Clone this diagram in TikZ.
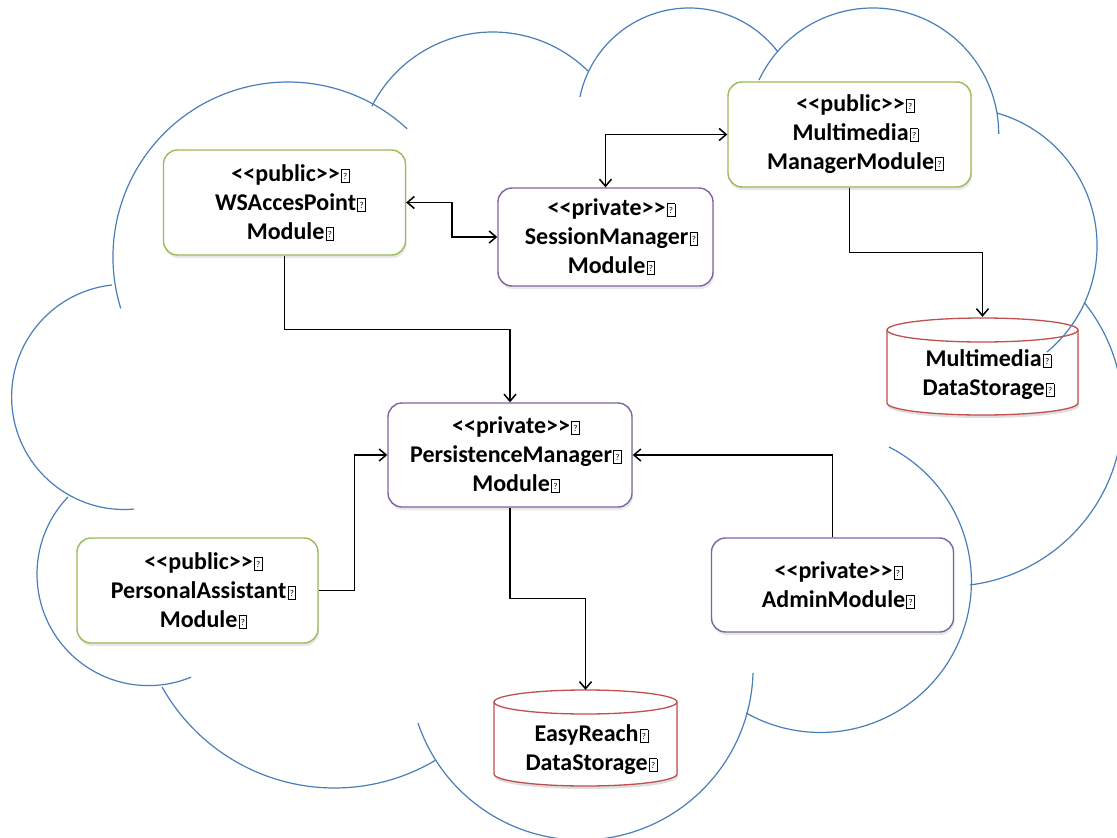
\documentclass[tikz,border=0pt]{standalone}
\usepackage{fontspec}
\setmainfont{Carlito}[Ligatures=TeXOff]
\usetikzlibrary{arrows.meta,shadows}

\definecolor{cloudblue}{RGB}{74,126,187}
\definecolor{pubgreen}{RGB}{155,187,89}
\definecolor{privpurple}{RGB}{128,100,162}
\definecolor{storered}{RGB}{192,80,77}

% small framed "?" that closes every text line
\newcommand\qbox{\kern1.2pt{\setlength\fboxsep{0pt}\setlength\fboxrule{0.8pt}%
  \fbox{\makebox[7pt]{\rule[-0.3pt]{0pt}{12pt}\raisebox{2pt}{\fontsize{9}{9}\selectfont\mdseries ?}}}}}
\newcommand\mline[1]{\hspace*{12pt}#1\qbox}
\newcommand\modfont{\fontsize{24}{29}\selectfont\bfseries}

% storage drum: left x, right x, top-ellipse centre y, bottom-ellipse centre y
\newcommand\storedrum[4]{%
  \fill[black,opacity=0.13] (#1+1,#3+3) -- (#1+1,#4+3)
    arc[start angle=180,end angle=0,x radius={(#2-#1)/2},y radius=12] -- (#2+1,#3+3) -- cycle;
  \draw[drum] (#1,#3) -- (#1,#4)
    arc[start angle=180,end angle=0,x radius={(#2-#1)/2},y radius=12] -- (#2,#3)
    arc[start angle=0,end angle=-180,x radius={(#2-#1)/2},y radius=12] -- cycle;
  \draw[drum] (#1,#3) arc[start angle=180,end angle=0,x radius={(#2-#1)/2},y radius=12];
}

\begin{document}
\begin{tikzpicture}[x=1pt,y=-1pt,
  modbox/.style={draw, fill=white, rounded corners=14pt, line width=1.4pt,
    align=center, font=\modfont, inner sep=0pt,
    drop shadow={shadow xshift=1pt, shadow yshift=-3pt, opacity=0.18}},
  pubbox/.style={modbox, draw=pubgreen},
  privbox/.style={modbox, draw=privpurple},
  drum/.style={draw=storered, fill=white, line width=1.3pt},
  drumtext/.style={align=center, font=\modfont, inner sep=0pt},
  drumarea/.style={rectangle, inner sep=0pt},
  conn/.style={line width=1.5pt, black},
  cloudarc/.style={cloudblue, line width=1.2pt},
  >={Straight Barb[length=7pt,width=12pt]}]

\fill[white] (0,0) rectangle (1117,838);
\useasboundingbox (0,0) rectangle (1117,838);

% module boxes
\node[pubbox, minimum width=242pt, minimum height=105pt] (ws) at (284.5,202.5)
  {\mline{<<public>>}\\\mline{WSAccesPoint}\\\mline{Module}};
\node[privbox, minimum width=215pt, minimum height=98pt] (ses) at (605.5,237)
  {\mline{<<private>>}\\\mline{SessionManager}\\\mline{Module}};
\node[pubbox, minimum width=243pt, minimum height=105pt] (mm) at (849.5,134.5)
  {\mline{<<public>>}\\\mline{Multimedia}\\\mline{ManagerModule}};
\node[privbox, minimum width=244pt, minimum height=104pt] (pm) at (510,455)
  {\mline{<<private>>}\\\mline{PersistenceManager}\\\mline{Module}};
\node[pubbox, minimum width=241pt, minimum height=105pt] (pa) at (197.5,590.5)
  {\mline{<<public>>}\\\mline{PersonalAssistant}\\\mline{Module}};
\node[privbox, minimum width=242pt, minimum height=94pt] (adm) at (832.5,585)
  {\mline{<<private>>}\\\mline{AdminModule}};

% storage drums
\storedrum{887}{1078}{330}{403}
\node[drumarea, minimum width=191pt, minimum height=98pt] (mds) at (982.5,366) {};
\node[drumtext] (mdstext) at (982.5,375) {\mline{Multimedia}\\\mline{DataStorage}};
\storedrum{494}{677}{702}{774}
\node[drumarea, minimum width=183pt, minimum height=96pt] (ers) at (585.5,738) {};
\node[drumtext] (erstext) at (585.5,750) {\mline{EasyReach}\\\mline{DataStorage}};

% connectors
\draw[conn,<->] (ws.east) -- ++(46,0) |- (ses.west);
\draw[conn,<->] (ses.north) |- (mm.west);
\draw[conn,->] (mm.south) -- ++(0,65) -| (mds.north);
\draw[conn,->] (ws.south) -- ++(0,74) -| (pm.north);
\draw[conn,->] (pa.east) -- ++(36,0) |- (pm.west);
\draw[conn,->] (adm.north) |- (pm.east);
\draw[conn,->] (pm.south) -- ++(0,91) -| (ers.north);

% cloud outline: one circular arc per lobe
\foreach \cx/\cy/\r/\sa/\ea in {
    288/257/175/162.9/312.9,
    492.8/167.6/135.6/207/314.6,
    689.2/119.6/111.6/191.7/322.7,
    872.8/133.9/125.9/205.3/360,
    959/245.7/138/-74/50.4,
    948.4/411.9/174.4/-39/82.9,
    820.4/581.5/151/-63/119.5,
    581/667.9/172.1/1.7/161.3,
    334.5/590.3/197.7/59.1/150.7,
    148.5/574.1/111.5/223.8/67.6,
    124.2/396.9/112.6/263.8/85}
  \draw[cloudarc] (\cx,\cy) ++(\sa:\r) arc[start angle=\sa, end angle=\ea, radius=\r];
\end{tikzpicture}
\end{document}
